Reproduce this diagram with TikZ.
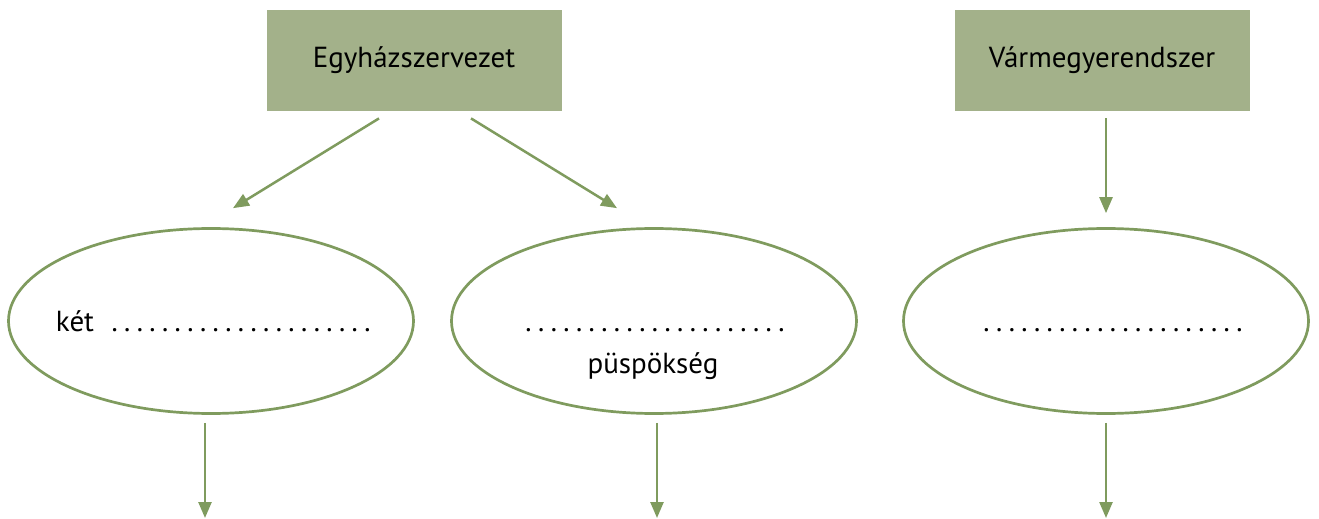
\documentclass[tikz,border=0pt]{standalone}
\usepackage{fontspec}
\setmainfont{PT Sans}
\usetikzlibrary{arrows.meta,shapes.geometric}
\definecolor{boxfill}{HTML}{A3B18A}
\definecolor{linegreen}{HTML}{7F9B5E}
\newcommand{\dotrow}{\hbox to 133pt{\xleaders\hbox to 6.05pt{\hss.\hss}\hfill}}
\tikzset{
  headbox/.style={fill=boxfill, minimum width=147.5pt, minimum height=50.5pt,
    inner sep=0pt, font=\fontsize{14.5}{17}\selectfont},
  topicell/.style={ellipse, draw=linegreen, line width=1.35pt,
    minimum width=202.5pt, minimum height=92.5pt, inner sep=0pt},
  celltext/.style={inner sep=0pt, anchor=base, font=\fontsize{14.5}{17}\selectfont},
  arr/.style={-{Triangle[length=8pt,width=6.5pt]}, line width=1.25pt, draw=linegreen}
}

\begin{document}
\begin{tikzpicture}[x=0.5pt, y=-0.5pt]
    \useasboundingbox (0,0) rectangle (1319,519);
    % fejlecek
    \node[headbox] (egyhaz) at (414,60.5) {Egyházszervezet};
    \node[headbox] (varmegye) at (1102,60.5) {Vármegyerendszer};
    % ellipszisek
    \node[topicell] (ket) at (211,321) {};
    \node[topicell] (puspok) at (654,321) {};
    \node[topicell] (megye) at (1106,321) {};
    \node[celltext] (ketline) at (215,331) {két\hspace{7pt}\dotrow};
    \node[celltext] (puspdots) at (655,331) {\dotrow};
    \node[celltext] (puspword) at (653,373) {püspökség};
    \node[celltext] (megyedots) at (1113,331) {\dotrow};
    % also szabad vegek
    \coordinate (ketend) at (205,518);
    \coordinate (puspend) at (657,518);
    \coordinate (megyeend) at (1106,518);
    \draw[arr] ([xshift=-17.5pt,yshift=-3.5pt]egyhaz.south) -- ([xshift=11pt,yshift=9.5pt]ket.north);
    \draw[arr] ([xshift=28.5pt,yshift=-3.5pt]egyhaz.south) -- ([xshift=-18.5pt,yshift=9.5pt]puspok.north);
    \draw[arr] ([xshift=2pt,yshift=-3.5pt]varmegye.south) -- ([yshift=7pt]megye.north);
    \draw[arr] ([xshift=-3pt,yshift=-4pt]ket.south) -- (ketend);
    \draw[arr] ([xshift=1.5pt,yshift=-4pt]puspok.south) -- (puspend);
    \draw[arr] ([yshift=-4pt]megye.south) -- (megyeend);
  \end{tikzpicture}
\end{document}
